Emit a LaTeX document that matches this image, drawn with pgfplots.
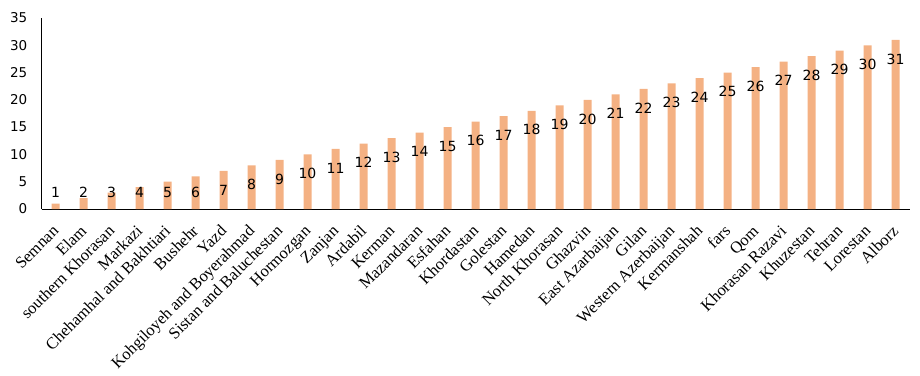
\documentclass[border=0pt]{standalone}
\usepackage{fontspec}
\usepackage{pgfplots}
\pgfplotsset{compat=1.18}
\newfontfamily\labelfont{Liberation Serif}
\newfontfamily\numfont{DejaVu Sans}
\definecolor{barc}{HTML}{F4B183}
\begin{document}
\begin{tikzpicture}[x=1pt,y=1pt]
\begin{axis}[
  at={(41.5pt,166pt)}, anchor=south west,
  scale only axis, width=868pt, height=191pt,
  xmin=-0.5, xmax=30.5, ymin=0, ymax=35,
  ytick={0,5,...,35},
  xtick={0,...,30},
  xticklabels={Semnan,Elam,southern Khorasan,Markazi,Chehamhal and Bakhtiari,Bushehr,Yazd,Kohgiloyeh and Boyerahmad,Sistan and Baluchestan,Hormozgan,Zanjan,Ardabil,Kerman,Mazandaran,Esfahan,Khordastan,Golestan,Hamedan,North Khorasan,Ghazvin,East Azarbaijan,Gilan,Western Azerbaijan,Kermanshah,fars,Qom,Khorasan Razavi,Khuzestan,Tehran,Lorestan,Alborz},
  axis x line*=bottom, axis y line*=left,
  axis line style={-, black, line width=0.9pt},
  major tick length=0pt,
  xticklabel style={font=\labelfont\fontsize{16.5}{16.5}\selectfont, xshift=4pt, yshift=-23pt, rotate=45, anchor=base east, inner sep=0pt},
  yticklabel style={font=\numfont\fontsize{13.5}{14}\selectfont, anchor=east, inner sep=0pt, xshift=-14pt},
  /pgf/number format/assume math mode=true,
  clip=false,
]
\addplot[ybar, bar width=8pt, fill=barc, draw=none] coordinates {
(0,1) (1,2) (2,3) (3,4) (4,5) (5,6) (6,7) (7,8) (8,9) (9,10)
(10,11) (11,12) (12,13) (13,14) (14,15) (15,16) (16,17) (17,18) (18,19) (19,20)
(20,21) (21,22) (22,23) (23,24) (24,25) (25,26) (26,27) (27,28) (28,29) (29,30) (30,31)};
\addplot[draw=none, mark=none, forget plot, nodes near coords, point meta=explicit symbolic,
  every node near coord/.style={anchor=center, inner sep=0pt, font=\numfont\fontsize{14}{14}\selectfont, text=black}] coordinates {
(0,3.0)[1] (1,3.0)[2] (2,3.0)[3] (3,3.0)[4] (4,3.0)[5] (5,3.0)[6] (6,3.5)[7] (7,4.5)[8] (8,5.5)[9] (9,6.5)[10]
(10,7.5)[11] (11,8.5)[12] (12,9.5)[13] (13,10.5)[14] (14,11.5)[15] (15,12.5)[16] (16,13.5)[17] (17,14.5)[18] (18,15.5)[19] (19,16.5)[20]
(20,17.5)[21] (21,18.5)[22] (22,19.5)[23] (23,20.5)[24] (24,21.5)[25] (25,22.5)[26] (26,23.5)[27] (27,24.5)[28] (28,25.5)[29] (29,26.5)[30] (30,27.5)[31]};
\end{axis}
\pgfresetboundingbox
\useasboundingbox (0,0) rectangle (920pt,375pt);
\end{tikzpicture}
\end{document}
